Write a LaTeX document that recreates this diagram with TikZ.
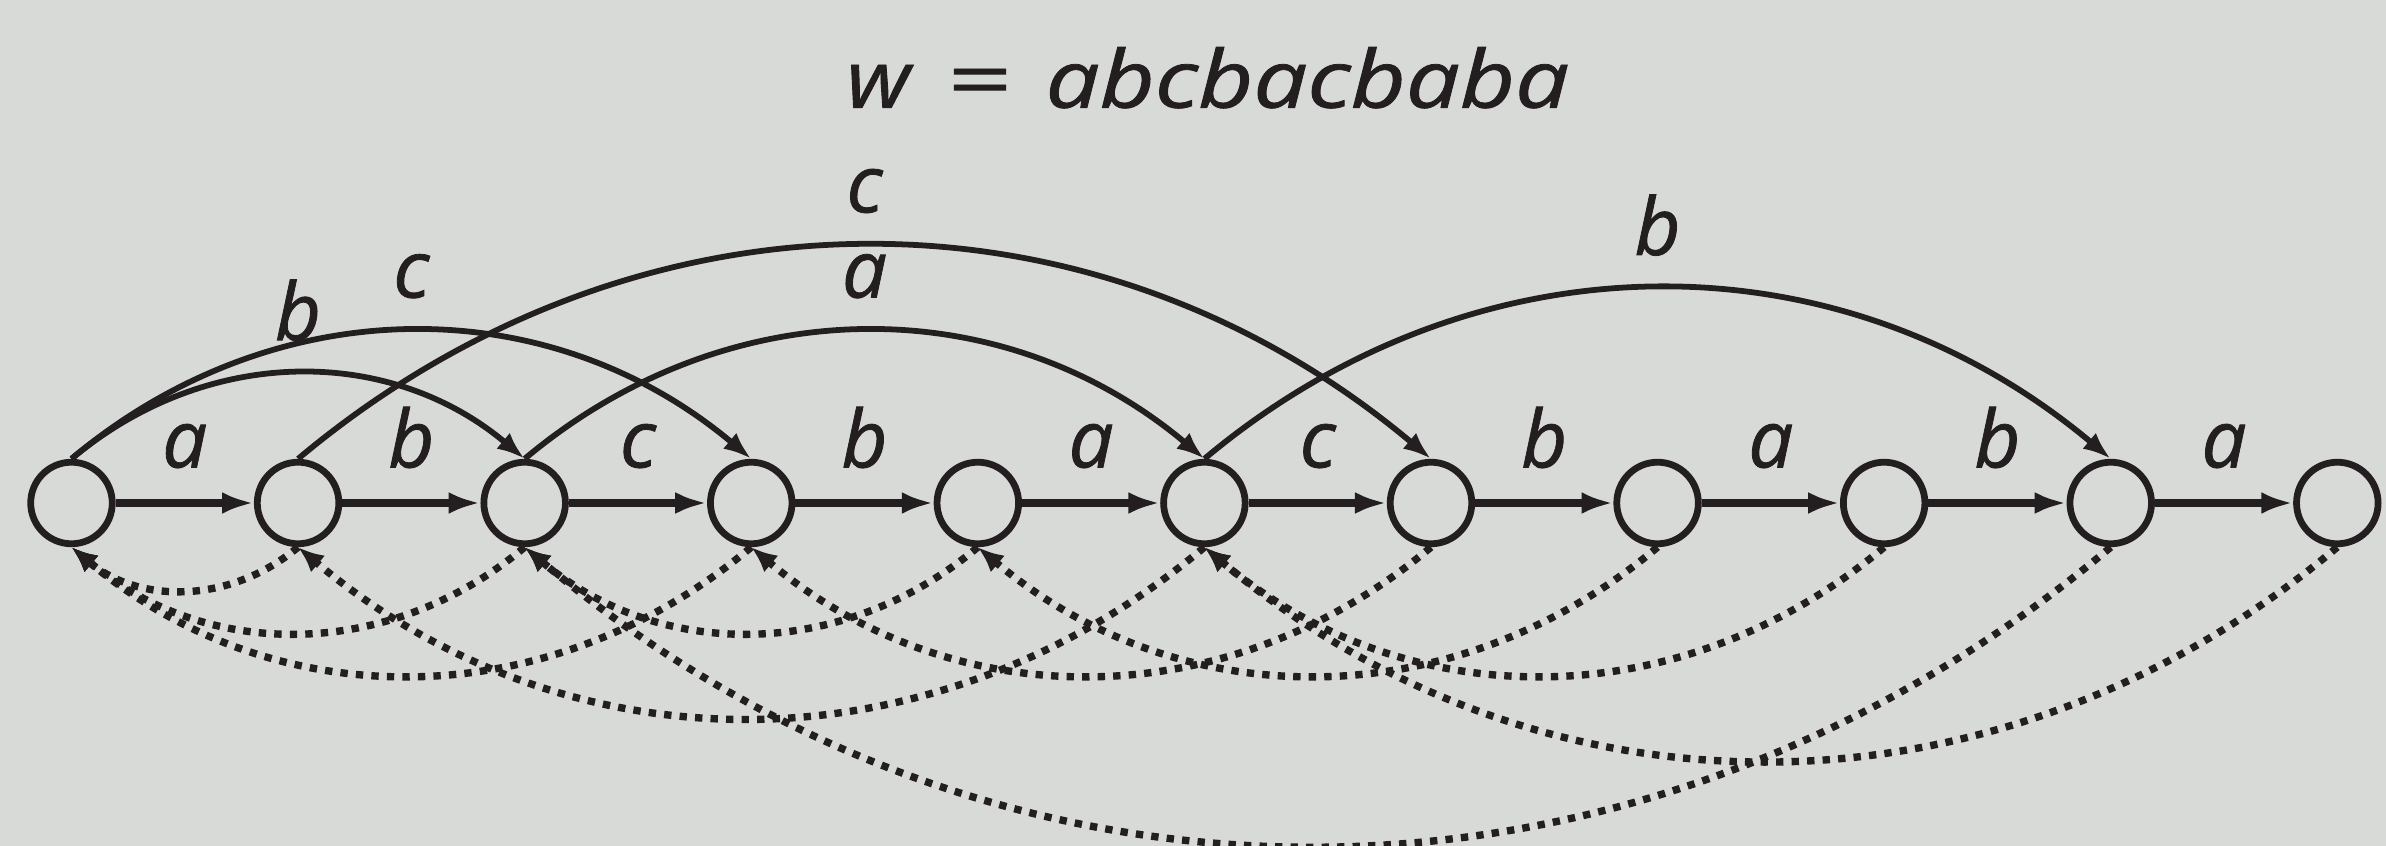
\documentclass[tikz,border=0pt]{standalone}
\usepackage{fontspec}
\setmainfont{Open Sans}
\usepackage{xcolor}
\usepackage{graphicx}
\usepackage{tikz}
\usetikzlibrary{arrows.meta}

\newfontfamily\lblfont{Open Sans}[FakeBold=1]
\definecolor{bggray}{RGB}{216,218,215}
\definecolor{ink}{RGB}{35,31,32}

\begin{document}
\begin{tikzpicture}
      \tikzstyle{state} = [draw=ink, circle, line width=1.7pt,
                           minimum size=0.72cm, inner sep=0pt]
      \tikzstyle{trans} = [draw=ink, line width=1.9pt,
                           -{Latex[length=8pt,width=5.5pt]}]
      \tikzstyle{extra} = [draw=ink, line width=1.45pt, bend left=40,
                           -{Latex[length=7pt,width=5.2pt]}]
      \tikzstyle{suffix} = [draw=ink, line width=1.85pt, bend left=40,
                            dash pattern=on 1.85pt off 2.05pt,
                            -{Latex[length=6.5pt,width=5.5pt]}]
      \tikzstyle{lbl} = [text=ink, inner sep=0pt,
                         font=\lblfont\fontsize{20}{24}\selectfont\itshape]

      \fill[bggray] (-0.631,-3.027) rectangle (20.43,4.44);
      \useasboundingbox (-0.631,-3.027) rectangle (20.43,4.44);

      \node[lbl, anchor=base] (word) at (10.03,3.49)
           {\scalebox{1.12}[1]{w}\hspace{9pt}\scalebox{1.4}[1]{=}%
            \hspace{9pt}\scalebox{1.2}[1]{abcbacbaba}};

      \node[state] (n0) at (0,0) {};
      \node[state] (n1) at (2,0) {};
      \node[state] (n2) at (4,0) {};
      \node[state] (n3) at (6,0) {};
      \node[state] (n4) at (8,0) {};
      \node[state] (n5) at (10,0) {};
      \node[state] (n6) at (12,0) {};
      \node[state] (n7) at (14,0) {};
      \node[state] (n8) at (16,0) {};
      \node[state] (n9) at (18,0) {};
      \node[state] (n10) at (20,0) {};

      \draw[trans] (n0) -- node[lbl, above=7.8pt] {a} (n1);
      \draw[trans] (n1) -- node[lbl, above=7.8pt] {b} (n2);
      \draw[trans] (n2) -- node[lbl, above=7.8pt] {c} (n3);
      \draw[trans] (n3) -- node[lbl, above=7.8pt] {b} (n4);
      \draw[trans] (n4) -- node[lbl, above=7.8pt] {a} (n5);
      \draw[trans] (n5) -- node[lbl, above=7.8pt] {c} (n6);
      \draw[trans] (n6) -- node[lbl, above=7.8pt] {b} (n7);
      \draw[trans] (n7) -- node[lbl, above=7.8pt] {a} (n8);
      \draw[trans] (n8) -- node[lbl, above=7.8pt] {b} (n9);
      \draw[trans] (n9) -- node[lbl, above=7.8pt] {a} (n10);

      \draw[extra] (n0.north) to node[lbl, above=7.5pt] {b} (n2.north);
      \draw[extra] (n0.north) to node[lbl, above=7.5pt] {c} (n3.north);
      \draw[extra] (n1.north) to node[lbl, above=7.5pt] {c} (n6.north);
      \draw[extra] (n2.north) to node[lbl, above=7.5pt] {a} (n5.north);
      \draw[extra] (n5.north) to node[lbl, above=7.5pt] {b} (n9.north);

      \draw[suffix] (n1.south) to (n0.south);
      \draw[suffix] (n2.south) to (n0.south);
      \draw[suffix] (n3.south) to (n0.south);
      \draw[suffix] (n4.south) to (n2.south);
      \draw[suffix] (n5.south) to (n1.south);
      \draw[suffix] (n6.south) to (n3.south);
      \draw[suffix] (n7.south) to (n4.south);
      \draw[suffix] (n8.south) to (n5.south);
      \draw[suffix] (n9.south) to (n2.south);
      \draw[suffix] (n10.south) to (n5.south);
\end{tikzpicture}
\end{document}
